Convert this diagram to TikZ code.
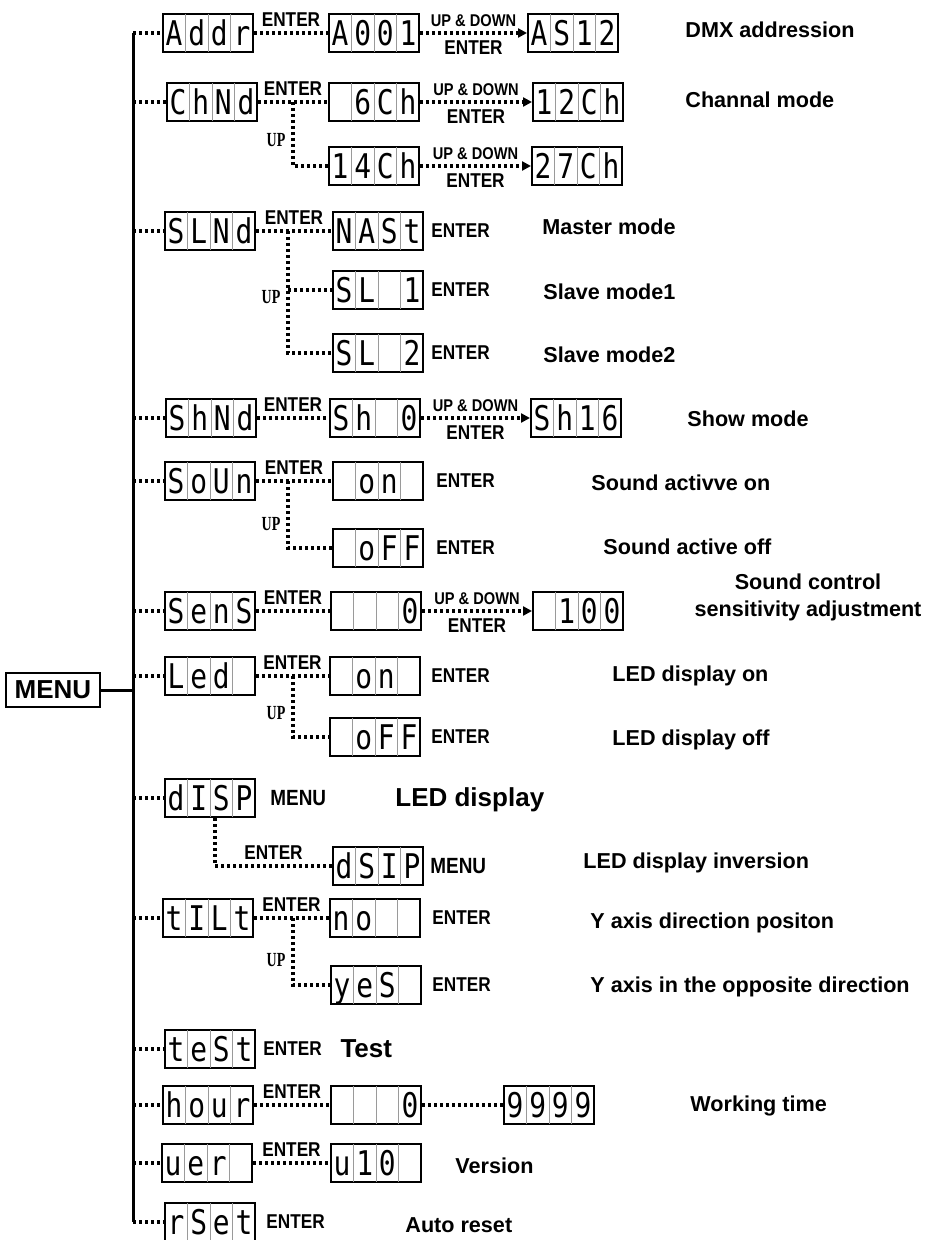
\documentclass[tikz,border=0pt]{standalone}
\usepackage{fontspec}
\setmainfont{Liberation Sans}
\newfontfamily\segfont[FakeStretch=0.82]{DejaVu Sans Mono}
\newfontfamily\narrowfont[FakeStretch=0.86]{Liberation Sans}
\newfontfamily\upfont[FakeStretch=0.7]{Liberation Serif}
\usepackage{tikz}
\usetikzlibrary{positioning,arrows.meta}
\definecolor{segGray}{HTML}{9A9A9A}
\newcommand{\segcell}[1]{\makebox[10.95pt]{#1}}
\newcommand{\segsep}{{\color{segGray}\vrule width 0.4pt height 15.7pt depth 3.3pt}}
\newcommand{\segdisp}[4]{{\segfont\fontsize{17}{17}\selectfont\segcell{#1}\segsep\segcell{#2}\segsep\segcell{#3}\segsep\segcell{#4}}}

\begin{document}
\begin{tikzpicture}[x=0.5pt,y=-0.5pt,
    segbox/.style={draw,line width=1pt,inner sep=0pt},
    dotline/.style={line width=1.6pt,dash pattern=on 1.5pt off 1.5pt},
    spine/.style={line width=1.5pt},
    key/.style={font=\narrowfont\bfseries\fontsize{10}{11}\selectfont,inner sep=1pt},
    updown/.style={font=\narrowfont\bfseries\fontsize{8.5}{9}\selectfont,inner sep=1pt},
    uplbl/.style={font=\upfont\bfseries\fontsize{10}{10}\selectfont,inner sep=1pt},
    desc/.style={font=\bfseries\fontsize{10.8}{13.5}\selectfont,anchor=west,inner sep=0pt},
    bigdesc/.style={font=\bfseries\fontsize{13}{15}\selectfont,anchor=west,inner sep=0pt},
    arr/.style={dotline,-{Triangle[length=4.5pt,width=4.5pt]}}]
  \useasboundingbox (0,0) rectangle (926,1240);

  \node[draw,line width=1pt,inner sep=0pt,minimum width=47pt,minimum height=17pt,
    font=\bfseries\fontsize{13}{14}\selectfont] (menu) at (53,690) {MENU};
  \coordinate (top) at (133,33);
  \coordinate (bot) at (133,1222);
  \draw[spine] (top) -- (bot);
  \draw[spine] (menu.east) -- (menu.east -| top);

  % first level
  \node[segbox] (addr) at (208,33) {\segdisp{A}{d}{d}{r}};
  \node[segbox] (chnd) at (212,102) {\segdisp{C}{h}{N}{d}};
  \node[segbox] (slnd) at (210,231) {\segdisp{S}{L}{N}{d}};
  \node[segbox] (shnd) at (211,418) {\segdisp{S}{h}{N}{d}};
  \node[segbox] (soun) at (210,481) {\segdisp{S}{o}{U}{n}};
  \node[segbox] (sens) at (210,611) {\segdisp{S}{e}{n}{S}};
  \node[segbox] (led) at (210,676) {\segdisp{L}{e}{d}{}};
  \node[segbox] (disp) at (210,798) {\segdisp{d}{I}{S}{P}};
  \node[segbox] (tilt) at (208,918) {\segdisp{t}{I}{L}{t}};
  \node[segbox] (test) at (210,1049) {\segdisp{t}{e}{S}{t}};
  \node[segbox] (hour) at (208,1105) {\segdisp{h}{o}{u}{r}};
  \node[segbox] (uer) at (207,1163) {\segdisp{u}{e}{r}{}};
  \node[segbox] (rset) at (210,1222) {\segdisp{r}{S}{e}{t}};
  \foreach \n in {addr,chnd,slnd,shnd,soun,sens,led,disp,tilt,test,hour,uer,rset}
    \draw[dotline] (\n.west -| top) -- (\n.west);

  % second level
  \node[segbox] (a001) at (374,33) {\segdisp{A}{0}{0}{1}};
  \node[segbox] (c6ch) at (374,102) {\segdisp{}{6}{C}{h}};
  \node[segbox] (c14ch) at (374,166) {\segdisp{1}{4}{C}{h}};
  \node[segbox] (mast) at (378,231) {\segdisp{N}{A}{S}{t}};
  \node[segbox] (sl1) at (378,290) {\segdisp{S}{L}{}{1}};
  \node[segbox] (sl2) at (378,353) {\segdisp{S}{L}{}{2}};
  \node[segbox] (sh0) at (375,418) {\segdisp{S}{h}{}{0}};
  \node[segbox] (son) at (378,481) {\segdisp{}{o}{n}{}};
  \node[segbox] (soff) at (378,548) {\segdisp{}{o}{F}{F}};
  \node[segbox] (s0) at (376,611) {\segdisp{}{}{}{0}};
  \node[segbox] (lon) at (375,676) {\segdisp{}{o}{n}{}};
  \node[segbox] (loff) at (375,737) {\segdisp{}{o}{F}{F}};
  \node[segbox] (dsip) at (378,866) {\segdisp{d}{S}{I}{P}};
  \node[segbox] (tno) at (375,918) {\segdisp{n}{o}{}{}};
  \node[segbox] (tyes) at (376,985) {\segdisp{y}{e}{S}{}};
  \node[segbox] (h0) at (376,1105) {\segdisp{}{}{}{0}};
  \node[segbox] (ver) at (376,1163) {\segdisp{u}{1}{0}{}};

  % third level
  \node[segbox] (as12) at (573,33) {\segdisp{A}{S}{1}{2}};
  \node[segbox] (c12ch) at (578,102) {\segdisp{1}{2}{C}{h}};
  \node[segbox] (c27ch) at (577,166) {\segdisp{2}{7}{C}{h}};
  \node[segbox] (sh16) at (576,418) {\segdisp{S}{h}{1}{6}};
  \node[segbox] (s100) at (578,611) {\segdisp{}{1}{0}{0}};
  \node[segbox] (h9999) at (549,1105) {\segdisp{9}{9}{9}{9}};

  \draw[dotline] (addr) -- node[key,above=1.5pt]{ENTER} (a001);
  \draw[arr] (a001) -- node[updown,above=1.5pt]{UP \& DOWN} node[key,below=2pt]{ENTER} (as12);

  \draw[dotline] (chnd) -- node[key,above=1.5pt]{ENTER} (c6ch);
  \coordinate (chup) at (293,102);
  \draw[dotline] (chup) |- node[uplbl,left=2pt,pos=0.3]{UP} (c14ch.west);
  \draw[arr] (c6ch) -- node[updown,above=1.5pt]{UP \& DOWN} node[key,below=2pt]{ENTER} (c12ch);
  \draw[arr] (c14ch) -- node[updown,above=1.5pt]{UP \& DOWN} node[key,below=2pt]{ENTER} (c27ch);

  \draw[dotline] (slnd) -- node[key,above=1.5pt]{ENTER} (mast);
  \coordinate (slup) at (288,231);
  \draw[dotline] (slup) |- node[uplbl,left=2pt,pos=0.27]{UP} (sl2.west);
  \draw[dotline] (sl1.west -| slup) -- (sl1.west);
  \node[key,right=2.5pt of mast] {ENTER};
  \node[key,right=2.5pt of sl1] {ENTER};
  \node[key,right=2.5pt of sl2] {ENTER};

  \draw[dotline] (shnd) -- node[key,above=1.5pt]{ENTER} (sh0);
  \draw[arr] (sh0) -- node[updown,above=1.5pt]{UP \& DOWN} node[key,below=2pt]{ENTER} (sh16);

  \draw[dotline] (soun) -- node[key,above=1.5pt]{ENTER} (son);
  \coordinate (soup) at (288,481);
  \draw[dotline] (soup) |- node[uplbl,left=2pt,pos=0.32]{UP} (soff.west);
  \node[key,right=5pt of son] {ENTER};
  \node[key,right=5pt of soff] {ENTER};

  \draw[dotline] (sens) -- node[key,above=1.5pt]{ENTER} (s0);
  \draw[arr] (s0) -- node[updown,above=1.5pt]{UP \& DOWN} node[key,below=2pt]{ENTER} (s100);

  \draw[dotline] (led) -- node[key,above=1.5pt]{ENTER} (lon);
  \coordinate (ledup) at (293,676);
  \draw[dotline] (ledup) |- node[uplbl,left=2pt,pos=0.3]{UP} (loff.west);
  \node[key,right=4pt of lon] {ENTER};
  \node[key,right=4pt of loff] {ENTER};

  \node[key,right=6pt of disp,font=\narrowfont\bfseries\fontsize{11}{12}\selectfont] {MENU};
  \draw[dotline] ([xshift=2.5pt]disp.south) |- node[key,above=1.5pt,pos=0.75]{ENTER} (dsip.west);
  \node[key,right=2pt of dsip,font=\narrowfont\bfseries\fontsize{11}{12}\selectfont] {MENU};

  \draw[dotline] (tilt) -- node[key,above=1.5pt]{ENTER} (tno);
  \coordinate (tiltup) at (293,918);
  \draw[dotline] (tiltup) |- node[uplbl,left=2pt,pos=0.31]{UP} (tyes.west);
  \node[key,right=4.5pt of tno] {ENTER};
  \node[key,right=4pt of tyes] {ENTER};

  \node[key,right=2.5pt of test] (testkey) {ENTER};
  \node[bigdesc,right=8pt of testkey] {Test};

  \draw[dotline] (hour) -- node[key,above=1.5pt]{ENTER} (h0);
  \draw[dotline] (h0) -- (h9999);

  \draw[dotline] (uer) -- node[key,above=1.5pt]{ENTER} (ver);

  \node[key,right=4pt of rset] {ENTER};

  % descriptions
  \node[desc] at (685,30) {DMX addression};
  \node[desc] at (685,100) {Channal mode};
  \node[desc] at (542,227) {Master mode};
  \node[desc] at (543,292) {Slave mode1};
  \node[desc] at (543,355) {Slave mode2};
  \node[desc] at (687,419) {Show mode};
  \node[desc] at (591,483) {Sound activve on};
  \node[desc] at (603,547) {Sound active off};
  \node[desc,anchor=center,align=center] at (808,597) {Sound control\\sensitivity adjustment};
  \node[desc] at (612,676) {LED display on};
  \node[desc] at (612,740) {LED display off};
  \node[bigdesc] at (395,800) {LED display};
  \node[desc] at (583,863) {LED display inversion};
  \node[desc] at (590,923) {Y axis direction positon};
  \node[desc] at (590,987) {Y axis in the opposite direction};
  \node[desc] at (690,1106) {Working time};
  \node[desc] at (455,1166) {Version};
  \node[desc] at (405,1225) {Auto reset};
\end{tikzpicture}
\end{document}
